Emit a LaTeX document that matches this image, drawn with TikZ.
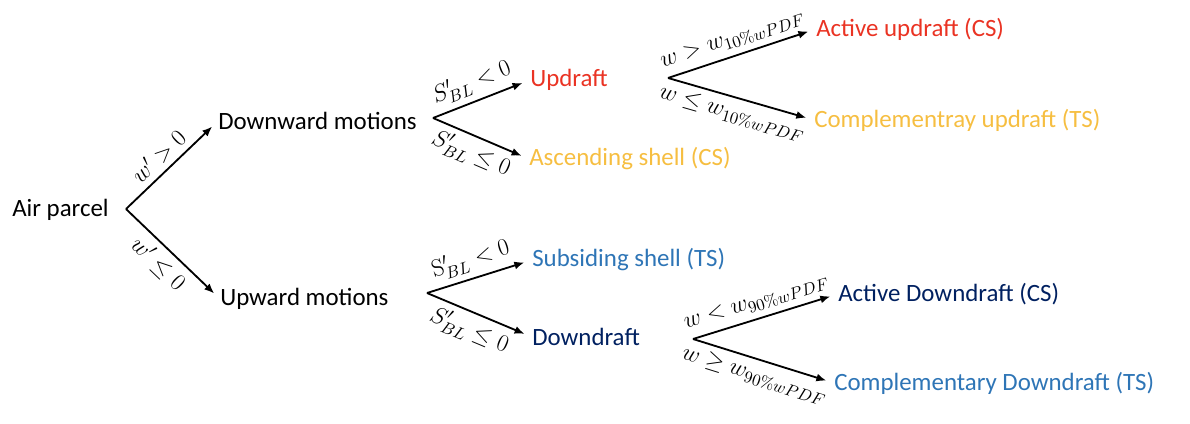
\RequirePackage{fix-cm}
\documentclass[tikz,border=0pt]{standalone}
\usepackage[no-math]{fontspec}
\setmainfont{Carlito}
\usetikzlibrary{arrows.meta}

\definecolor{updred}{RGB}{234,51,35}
\definecolor{shellgold}{RGB}{246,190,65}
\definecolor{sinkblue}{RGB}{46,117,182}
\definecolor{navy}{RGB}{0,32,96}

\tikzset{
  leaf/.style={anchor=west, inner sep=0pt, font=\fontsize{17.7}{21}\selectfont},
  branch/.style={-{Latex[length=2.5mm,width=2mm]}, line width=1.3pt, shorten >=0.2cm},
  cond/.style={sloped, pos=0.47, inner sep=4pt, font=\fontsize{17}{20}\selectfont}
}

\begin{document}
\begin{tikzpicture}[x=0.025cm, y=-0.025cm]
  \useasboundingbox (0,0) rectangle (1190,423);

  % labels of the tree
  \node[leaf] (air) at (12,210) {Air parcel};
  \node[leaf] (down) at (218,121) {Downward motions};
  \node[leaf] (up) at (220,299) {Upward motions};
  \node[leaf, text=updred] (updr) at (530,80) {Updraft};
  \node[leaf, text=shellgold] (ascsh) at (529,159) {Ascending shell (CS)};
  \node[leaf, text=sinkblue] (subsh) at (532,260) {Subsiding shell (TS)};
  \node[leaf, text=navy] (downdr) at (532,337) {Downdraft};
  \node[leaf, text=updred] (actup) at (816,29) {Active updraft (CS)};
  \node[leaf, text=shellgold] (compup) at (814,120) {Complementray updraft (TS)};
  \node[leaf, text=navy] (actdown) at (838,294) {Active Downdraft (CS)};
  \node[leaf, text=sinkblue] (compdown) at (834,383) {Complementary Downdraft (TS)};

  % branch points
  \coordinate (b0) at (126,209);
  \coordinate (b1) at (433,118);
  \coordinate (b2) at (427,293);
  \coordinate (b3) at (668,78);
  \coordinate (b4) at (693,339);

  % arrows
  \draw[branch] (b0) -- node[cond, above] {$w' > 0$} (down.west);
  \draw[branch] (b0) -- node[cond, below] {$w' \leq 0$} (up.west);
  \draw[branch] (b1) -- node[cond, above] {$S'_{BL} < 0$} (updr.west);
  \draw[branch] (b1) -- node[cond, below] {$S'_{BL} \leq 0$} (ascsh.west);
  \draw[branch] (b2) -- node[cond, above] {$\mathrm{S}'_{BL} < 0$} (subsh.west);
  \draw[branch] (b2) -- node[cond, below] {$S'_{BL} \leq 0$} (downdr.west);
  \draw[branch] (b3) -- node[cond, above] {$w > w_{10\%wPDF}$} (actup.west);
  \draw[branch] (b3) -- node[cond, below] {$w \leq w_{10\%wPDF}$} (compup.west);
  \draw[branch] (b4) -- node[cond, above] {$w < w_{90\%wPDF}$} (actdown.west);
  \draw[branch] (b4) -- node[cond, below] {$w \geq w_{90\%wPDF}$} (compdown.west);
\end{tikzpicture}
\end{document}
